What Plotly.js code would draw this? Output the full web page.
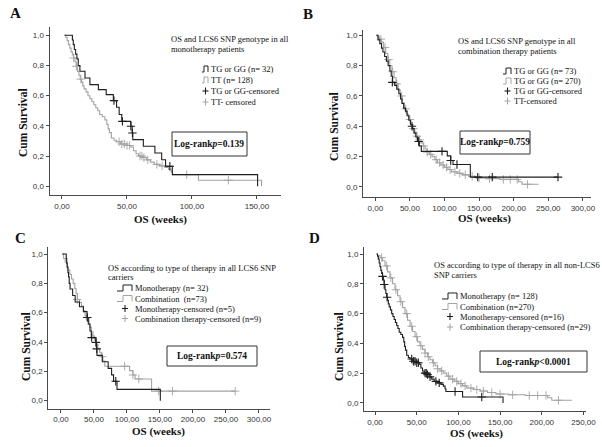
<!DOCTYPE html>
<html><head><meta charset="utf-8">
<script src="https://cdn.plot.ly/plotly-3.0.1.min.js"></script>
<style>html,body{margin:0;padding:0;background:#fff}</style>
</head><body><div id="chart" style="width:602px;height:447px"></div>
<script>
// ---------- DATA ----------
// Monotherapy, LCS6 carriers (TG or GG), n=32
const monoTG_t = [2, 8, 8.7, 9.5, 10.5, 11.5, 12.5, 13.8, 17.7, 21.5, 28, 34, 39.5, 42, 44, 46, 53, 54, 54.5, 62.6, 71.5, 76.7, 79.7, 84.9, 150.5];
const monoTG_s = [1, 0.969, 0.938, 0.906, 0.875, 0.844, 0.80, 0.762, 0.717, 0.673, 0.64, 0.607, 0.567, 0.523, 0.475, 0.43, 0.397, 0.353, 0.309, 0.265, 0.22, 0.176, 0.132, 0.077, 0];
const monoTG_ct = [40, 46.5, 53, 54.2, 83];
const monoTG_cs = [0.567, 0.43, 0.397, 0.353, 0.132];
// Monotherapy, non-carriers (TT), n=128
const monoTT_t = [2, 3, 4, 5, 6, 7, 8, 9, 10, 11, 12, 13, 14, 15, 16, 17, 18.5, 20, 21.5, 23, 24.5, 26, 27.5, 29, 31, 33, 34.5, 35.5, 36.5, 38, 40, 42, 45, 50, 53, 55, 57, 59, 62, 65, 68, 71, 75, 79, 82, 84, 85, 105, 153.5];
const monoTT_s = [1, 0.985, 0.965, 0.94, 0.915, 0.89, 0.87, 0.85, 0.825, 0.795, 0.76, 0.735, 0.71, 0.69, 0.665, 0.645, 0.625, 0.60, 0.58, 0.56, 0.54, 0.52, 0.50, 0.475, 0.46, 0.44, 0.41, 0.38, 0.355, 0.32, 0.305, 0.295, 0.28, 0.27, 0.26, 0.235, 0.215, 0.20, 0.19, 0.175, 0.16, 0.145, 0.135, 0.125, 0.113, 0.095, 0.077, 0.04, 0];
const monoTT_ct = [9, 11, 14.5, 44, 46, 48, 50, 52, 60, 61.5, 63, 66, 73, 77, 96, 128];
const monoTT_cs = [0.85, 0.795, 0.71, 0.295, 0.28, 0.28, 0.27, 0.27, 0.20, 0.20, 0.19, 0.175, 0.145, 0.135, 0.077, 0.04];
// Combination therapy, LCS6 carriers (TG or GG), n=73
const comboTG_t = [1.5, 4, 6.5, 9, 11, 13.5, 16, 18.5, 21, 23, 25, 28, 31, 34, 36.5, 38.5, 41, 43.5, 46, 48.5, 51, 53.5, 56, 58.5, 61, 63.5, 66.5, 104, 109, 112.3, 137.3, 264];
const comboTG_s = [1, 0.97, 0.945, 0.915, 0.89, 0.86, 0.83, 0.80, 0.765, 0.73, 0.69, 0.67, 0.645, 0.615, 0.58, 0.55, 0.52, 0.50, 0.47, 0.44, 0.41, 0.385, 0.355, 0.33, 0.30, 0.27, 0.235, 0.205, 0.175, 0.148, 0.065, 0.065];
const comboTG_ct = [24.6, 53, 62.6, 96.4, 109, 118, 148, 169, 264];
const comboTG_cs = [0.69, 0.40, 0.30, 0.235, 0.175, 0.148, 0.065, 0.065, 0.065];
// Combination therapy, non-carriers (TT), n=270
const comboTT_t = [1.5, 3, 6, 9, 12, 15, 18, 21, 24, 27, 30, 33, 36, 39, 42, 45, 48, 51, 54, 57, 60, 63, 66, 69, 72, 75, 78, 82, 86, 90, 95, 100, 105, 110, 118, 126, 135, 145, 160, 180, 207, 212, 236];
const comboTT_s = [1, 0.99, 0.975, 0.955, 0.92, 0.88, 0.84, 0.80, 0.76, 0.72, 0.68, 0.64, 0.60, 0.555, 0.515, 0.48, 0.445, 0.41, 0.385, 0.36, 0.335, 0.31, 0.29, 0.27, 0.25, 0.23, 0.215, 0.20, 0.18, 0.16, 0.145, 0.13, 0.115, 0.10, 0.09, 0.08, 0.07, 0.06, 0.055, 0.05, 0.035, 0.018, 0.018];
const comboTT_ct = [8, 14, 19, 25, 31, 38, 44, 50, 55, 60, 64, 70, 75, 80, 88, 93, 98, 103, 108, 115, 122, 130, 140, 150, 165, 185, 195, 205, 220];
const comboTT_cs = [0.975, 0.92, 0.84, 0.76, 0.68, 0.60, 0.515, 0.445, 0.385, 0.335, 0.31, 0.27, 0.23, 0.215, 0.18, 0.16, 0.145, 0.13, 0.115, 0.10, 0.09, 0.08, 0.07, 0.06, 0.055, 0.05, 0.05, 0.05, 0.018];

// Tick labels
const yTickVals = [0, 0.2, 0.4, 0.6, 0.8, 1.0];
const yTickText = ['0,0', '0,2', '0,4', '0,6', '0,8', '1,0'];
const xTickValsA = [0, 50, 100, 150];
const xTickTextA = ['0,00', '50,00', '100,00', '150,00'];
const xTickValsB = [0, 50, 100, 150, 200, 250, 300];
const xTickTextB = ['0,00', '50,00', '100,00', '150,00', '200,00', '250,00', '300,00'];
const xTickValsD = [0, 50, 100, 150, 200, 250];
const xTickTextD = ['0,00', '50,00', '100,00', '150,00', '200,00', '250,00'];

// Text
const panelLetters = ['A', 'B', 'C', 'D'];
const panelTitles = [
  ['OS and LCS6 SNP genotype in all', 'monotherapy patients'],
  ['OS and LCS6 SNP genotype in all', 'combination therapy patients'],
  ['OS according to type of therapy in all LCS6 SNP', 'carriers'],
  ['OS according to type of therapy in all non-LCS6', 'SNP carriers']
];
const legendTexts = [
  ['TG or GG (n= 32)', 'TT (n= 128)', 'TG or GG-censored', 'TT- censored'],
  ['TG or GG (n= 73)', 'TG or GG (n= 270)', 'TG or GG-censored', 'TT-censored'],
  ['Monotherapy (n= 32)', 'Combination  (n=73)', 'Monotherapy-censored (n=5)', 'Combination therapy-censored (n=9)'],
  ['Monotherapy (n= 128)', 'Combination (n=270)', 'Monotherapy-censored (n=16)', 'Combination therapy-censored (n=29)']
];
const logRankTexts = ['=0.139', '=0.759', '=0.574', '&lt;0.0001'];

// ---------- LAYOUT ----------
const W = 602, H = 447;
const BLACK = '#1e1e1e', GRAY = '#a3a3a3', AXC = '#4a4a4a';
function fx(x) { return x / W; }
function fy(y) { return 1 - y / H; }

const panels = [
  {xd: [49.5, 281], yd: [27, 195], xr: [-9.6, 168.5], yr: [-0.058, 1.055], tv: xTickValsA, tt: xTickTextA,
   letter: [15, 13], ytitle: [23, 123], xtitle: [160, 219], title: [169, 39, 49], leg: {gx: [202, 204, 208], tx: 209, ys: [69, 80, 91, 102]},
   box: [172, 132, 247, 156], black: [monoTG_t, monoTG_s, monoTG_ct, monoTG_cs], gray: [monoTT_t, monoTT_s, monoTT_ct, monoTT_cs]},
  {xd: [363, 591], yd: [30, 197], xr: [-17.8, 311.7], yr: [-0.066, 1.035], tv: xTickValsB, tt: xTickTextB,
   letter: [308, 14], ytitle: [334, 127], xtitle: [484, 218], title: [456, 41, 51], leg: {gx: [503, 506, 511], tx: 512, ys: [71, 81, 91, 101]},
   box: [460, 131, 530, 154], black: [comboTG_t, comboTG_s, comboTG_ct, comboTG_cs], gray: [comboTT_t, comboTT_s, comboTT_ct, comboTT_cs]},
  {xd: [48.3, 270], yd: [247.3, 408.7], xr: [-19.2, 316.7], yr: [-0.055, 1.046], tv: xTickValsB, tt: xTickTextB,
   letter: [20, 238], ytitle: [26, 347], xtitle: [158, 431], title: [106, 268, 277], leg: {gx: [117, 123, 132], tx: 133, ys: [288, 298.5, 308.5, 318.5]},
   box: [167, 346, 257, 366], black: [monoTG_t, monoTG_s, monoTG_ct, monoTG_cs], gray: [comboTG_t, comboTG_s, comboTG_ct, comboTG_cs]},
  {xd: [364, 586], yd: [247, 411.3], xr: [-13.2, 253], yr: [-0.056, 1.047], tv: xTickValsD, tt: xTickTextD,
   letter: [314, 238], ytitle: [339, 347], xtitle: [476, 433], title: [432, 265, 275], leg: {gx: [442, 448, 457], tx: 458, ys: [296, 306.5, 316.5, 327]},
   box: [480, 351, 587, 372], black: [monoTT_t, monoTT_s, monoTT_ct, monoTT_cs], gray: [comboTT_t, comboTT_s, comboTT_ct, comboTT_cs]}
];

const traces = [];
const layout = {
  width: W, height: H, margin: {l: 0, r: 0, t: 0, b: 0},
  paper_bgcolor: '#fff', plot_bgcolor: 'rgba(0,0,0,0)', showlegend: false,
  shapes: [], annotations: []
};
const serif = 'Liberation Serif, Times New Roman, serif';
const sans = 'Liberation Sans, Arial, sans-serif';

function ann(x, y, text, size, extra) {
  layout.annotations.push(Object.assign({xref: 'paper', yref: 'paper', x: fx(x), y: fy(y), text: text,
    showarrow: false, xanchor: 'left', yanchor: 'middle', font: {family: serif, size: size, color: '#111'}}, extra || {}));
}
function lineShape(x0, y0, x1, y1, color, w) {
  layout.shapes.push({type: 'line', xref: 'paper', yref: 'paper', x0: fx(x0), y0: fy(y0), x1: fx(x1), y1: fy(y1), line: {color: color, width: w}});
}
function pathShape(pts, color, w) {
  const d = pts.map((p, i) => (i ? 'L' : 'M') + fx(p[0]).toFixed(5) + ',' + fy(p[1]).toFixed(5)).join(' ');
  layout.shapes.push({type: 'path', xref: 'paper', yref: 'paper', path: d, line: {color: color, width: w}});
}

panels.forEach((p, i) => {
  const n = i === 0 ? '' : String(i + 1);
  const xa = 'x' + n, ya = 'y' + n;
  layout['xaxis' + n] = {
    domain: [fx(p.xd[0]), fx(p.xd[1])], range: p.xr, anchor: ya,
    tickvals: p.tv, ticktext: p.tt, ticks: 'outside', ticklen: 3, tickwidth: 1, tickcolor: AXC,
    showline: true, linecolor: AXC, linewidth: 1, showgrid: false, zeroline: false, fixedrange: true,
    tickfont: {family: sans, size: 8, color: '#333'}
  };
  layout['yaxis' + n] = {
    domain: [fy(p.yd[1]), fy(p.yd[0])], range: p.yr, anchor: xa,
    tickvals: yTickVals, ticktext: yTickText, ticks: 'outside', ticklen: 3, tickwidth: 1, tickcolor: AXC,
    showline: true, linecolor: AXC, linewidth: 1, showgrid: false, zeroline: false, fixedrange: true,
    tickfont: {family: sans, size: 8, color: '#333'}
  };
  [[p.gray, GRAY], [p.black, BLACK]].forEach(([d, c]) => {
    traces.push({x: d[0], y: d[1], xaxis: xa, yaxis: ya, mode: 'lines', line: {shape: 'hv', color: c, width: 1.1}, hoverinfo: 'skip'});
    traces.push({x: d[2], y: d[3], xaxis: xa, yaxis: ya, mode: 'markers',
      marker: {symbol: 'cross-thin', size: 6, line: {color: c, width: c === BLACK ? 1.1 : 0.9}}, hoverinfo: 'skip'});
  });
  // panel letter
  ann(p.letter[0], p.letter[1], '<b>' + panelLetters[i] + '</b>', 15, {xanchor: 'center'});
  // axis titles
  ann(p.ytitle[0], p.ytitle[1], '<b>Cum Survival</b>', 11.5, {xanchor: 'center', textangle: -90});
  ann(p.xtitle[0], p.xtitle[1], '<b>OS (weeks)</b>', 11, {xanchor: 'center'});
  // legend title
  ann(p.title[0], p.title[1], panelTitles[i][0], 8.5);
  ann(p.title[0], p.title[2], panelTitles[i][1], 8.5);
  // legend entries
  const g = p.leg.gx, ys = p.leg.ys;
  pathShape([[g[0], ys[0] + 3], [g[1], ys[0] + 3], [g[1], ys[0] - 3], [g[2], ys[0] - 3], [g[2], ys[0] + 3]], BLACK, 1);
  pathShape([[g[0], ys[1] + 3], [g[1], ys[1] + 3], [g[1], ys[1] - 3], [g[2], ys[1] - 3], [g[2], ys[1] + 3]], GRAY, 1);
  const cx = (g[0] + g[2]) / 2 + 0.5;
  lineShape(cx - 3, ys[2], cx + 3, ys[2], BLACK, 1.1); lineShape(cx, ys[2] - 3.5, cx, ys[2] + 3.5, BLACK, 1.1);
  lineShape(cx - 3, ys[3], cx + 3, ys[3], GRAY, 1); lineShape(cx, ys[3] - 3.5, cx, ys[3] + 3.5, GRAY, 1);
  legendTexts[i].forEach((t, k) => ann(p.leg.tx, ys[k], t, 8.5));
  // log-rank box
  layout.shapes.push({type: 'rect', xref: 'paper', yref: 'paper', x0: fx(p.box[0]), x1: fx(p.box[2]), y0: fy(p.box[3]), y1: fy(p.box[1]), line: {color: '#333', width: 1}});
  ann((p.box[0] + p.box[2]) / 2, (p.box[1] + p.box[3]) / 2, '<b>Log-rank<i>p</i>' + logRankTexts[i] + '</b>', 9.5, {xanchor: 'center'});
});

Plotly.newPlot('chart', traces, layout, {staticPlot: true, displayModeBar: false});
</script></body></html>
